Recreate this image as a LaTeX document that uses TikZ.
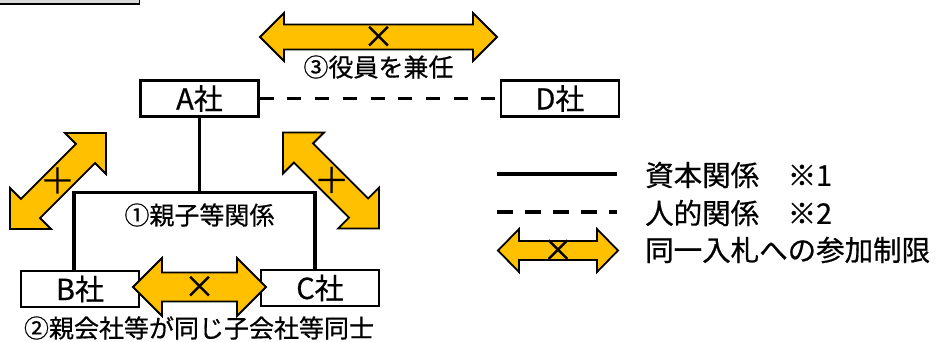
\documentclass[tikz,border=0pt]{standalone}
\usepackage{fontspec}
\setmainfont{Noto Sans CJK JP}[FakeBold=0.6]
\definecolor{arrfill}{HTML}{FFC000}
\definecolor{tabgray}{HTML}{D9D9D9}
\newcommand{\yarrow}[7]{% #1 name, #2 centre, #3 angle, #4 half length, #5 half shaft, #6 half head, #7 head length
  \begin{scope}[shift={#2},rotate=#3]
    \draw[yarr] (-#4,0) -- ({-#4+#7},#6) -- ({-#4+#7},#5) -- ({#4-#7},#5) -- ({#4-#7},#6) -- (#4,0)
      -- ({#4-#7},-#6) -- ({#4-#7},-#5) -- ({-#4+#7},-#5) -- ({-#4+#7},-#6) -- cycle;
  \end{scope}
  \node[xmark,rotate=#3] (#1) at #2 {×};}
\begin{document}
\begin{tikzpicture}[x=1pt,y=-1pt,
  yarr/.style={fill=arrfill,draw=black,line width=1.8pt,line join=miter},
  xmark/.style={inner sep=0pt,font=\fontsize{31}{31}\selectfont},
  company/.style={draw=black,line width=2.5pt,fill=white,minimum width=118pt,minimum height=36pt,inner sep=0pt,font=\fontsize{29}{29}\selectfont},
  conn/.style={line width=3.8pt},
  pers/.style={line width=3.8pt,dash pattern=on 14pt off 13.7pt},
  lbl/.style={inner sep=0pt,font=\fontsize{25}{25}\selectfont},
  legtxt/.style={inner sep=0pt,anchor=west,font=\fontsize{28.5}{28.5}\selectfont}]
\useasboundingbox (0,0) rectangle (945,341);
% partial tab at top left
\fill[tabgray] (0,-5) rectangle (138.5,3.3);
\draw[line width=1.5pt] (0,4) -- (139.3,4) -- (139.3,-3);
% companies
\node[company] (A) at (199.5,98.5) {\raisebox{-2.5pt}{A社}};
\node[company] (D) at (560,98.5) {\raisebox{-2.5pt}{D社}};
\node[company] (B) at (80,289) {\raisebox{-2.5pt}{B社}};
\node[company] (C) at (320,288) {\raisebox{-2.5pt}{C社}};
% capital relationships
\coordinate (jL) at (73.7,192.5);
\coordinate (jR) at (314.7,192.5);
\draw[conn] (A.south) -- (A.south |- jL);
\draw[conn] (B.north -| jL) -- (jL) -- (jR) -- (C.north -| jR);
% personal relationship
\draw[pers] (A.east) -- (D.west);
% restriction arrows
\yarrow{xAD}{(378.5,37)}{0}{118.5}{12.5}{24}{24}
\yarrow{xBC}{(199.5,287)}{0}{66.5}{14.5}{29}{29}
\yarrow{xAB}{(58,181)}{45}{67.9}{13.5}{29}{29}
\yarrow{xAC}{(331,180.5)}{-45}{67.9}{13.5}{29}{29}
% labels
\node[lbl] (l3) at (378.5,67) {③役員を兼任};
\node[lbl] (l1) at (199.5,215) {①親子等関係};
\node[lbl] (l2) at (199,328) {②親会社等が同じ子会社等同士};
% legend
\coordinate (s1) at (497,174); \coordinate (s2) at (617,174);
\draw[conn] (s1) -- (s2);
\coordinate (d1) at (497,212); \coordinate (d2) at (617,212);
\draw[line width=3.8pt,dash pattern=on 16pt off 12pt] (d1) -- (d2);
\yarrow{xLeg}{(558,250.5)}{0}{60}{9.5}{21.5}{21}
\node[legtxt] (t1) at (645,175) {資本関係　※1};
\node[legtxt] (t2) at (645,213) {人的関係　※2};
\node[legtxt] (t3) at (645,250) {同一入札への参加制限};
\end{tikzpicture}
\end{document}
